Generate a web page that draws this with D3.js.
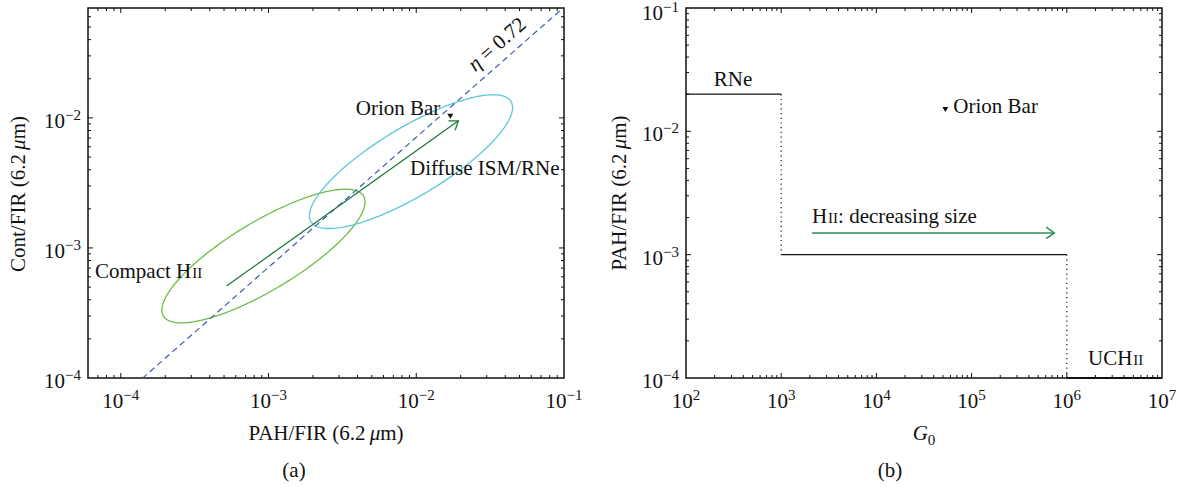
<!DOCTYPE html>
<html><head><meta charset="utf-8">
<script src="https://cdn.jsdelivr.net/npm/d3@7"></script>
<style>
body{margin:0;background:#fff}
svg{display:block}
text{font-family:"Liberation Serif","Times New Roman",serif;fill:#111}
</style>
</head><body>
<svg id="c" width="1181" height="487"></svg>
<script>
// ---------- DATA ----------
// panel (a)
const aXDomain = [6e-5, 0.1];
const aYDomain = [1e-4, 0.07];
const aXTickExps = [-4, -3, -2, -1];
const aYTickExps = [-4, -3, -2];
const etaRatio = 0.71;                 // Cont = 0.71 * PAH  (eta = 0.72 line)
const etaX = [1.4e-4, 0.1];
const arrowAStart = [5.2e-4, 5.1e-4];
const arrowAEnd = [0.0193, 0.0095];
const orionA = [0.017, 0.0103];
const ellipseNames = ["Compact HII", "Diffuse ISM/RNe"];
const ellipseCenters = [[9.24e-4, 8.67e-4], [9.21e-3, 4.61e-3]];
const ellipseMajor = [0.677, 0.462];   // semi-axis, in decades (x, y)
const ellipseMinor = [-0.120, 0.226];  // semi-axis, in decades (x, y)
const ellipseColors = ["#6cbd45", "#5ec8d8"];
// panel (b)
const bXDomain = [1e2, 1e7];
const bYDomain = [1e-4, 1e-1];
const bXTickExps = [2, 3, 4, 5, 6, 7];
const bYTickExps = [-4, -3, -2, -1];
const stepG = [1e2, 1e3, 1e6, 1e7];
const stepLevel = [0.02, 1e-3, 1e-4];
const arrowBStart = [2.1e3, 1.5e-3];
const arrowBEnd = [7.4e5, 1.5e-3];
const orionB = [5.3e4, 0.015];

// ---------- LAYOUT ----------
const svg = d3.select("#c");
const FS = 21, TFS = 21, SFS = 15;

function supText(sel, base, sup) {
  sel.append("tspan").text(base);
  sel.append("tspan").attr("font-size", SFS).attr("dy", -8).text(sup);
}

function panel(cfg) {
  const x = d3.scaleLog().domain(cfg.xd).range([cfg.l, cfg.r]);
  const y = d3.scaleLog().domain(cfg.yd).range([cfg.b, cfg.t]);
  const g = svg.append("g");
  const isMajor = d => Math.abs(Math.log10(d) - Math.round(Math.log10(d))) < 1e-9;
  const tk = g.append("g").attr("stroke", "#111").attr("stroke-width", 1);
  x.ticks().forEach(d => {
    const px = x(d), L = isMajor(d) ? 5 : 3;
    if (px < cfg.l + 0.5 || px > cfg.r - 0.5) return;
    tk.append("line").attr("x1", px).attr("x2", px).attr("y1", cfg.b).attr("y2", cfg.b - L);
    tk.append("line").attr("x1", px).attr("x2", px).attr("y1", cfg.t).attr("y2", cfg.t + L);
  });
  y.ticks().forEach(d => {
    const py = y(d), L = isMajor(d) ? 5 : 3;
    if (py < cfg.t + 0.5 || py > cfg.b - 0.5) return;
    tk.append("line").attr("y1", py).attr("y2", py).attr("x1", cfg.l).attr("x2", cfg.l + L);
    tk.append("line").attr("y1", py).attr("y2", py).attr("x1", cfg.r).attr("x2", cfg.r - L);
  });
  g.append("rect").attr("x", cfg.l).attr("y", cfg.t)
    .attr("width", cfg.r - cfg.l).attr("height", cfg.b - cfg.t)
    .attr("fill", "none").attr("stroke", "#111").attr("stroke-width", 1.5);
  cfg.xExps.forEach(e => {
    const t = g.append("text").attr("x", x(Math.pow(10, e))).attr("y", cfg.b + 30)
      .attr("text-anchor", "middle").attr("font-size", TFS);
    supText(t, "10", (e < 0 ? "\u2212" : "") + Math.abs(e));
  });
  cfg.yExps.forEach(e => {
    const yy = Math.max(y(Math.pow(10, e)) + 10, 20);
    const t = g.append("text").attr("x", cfg.l - 7).attr("y", yy)
      .attr("text-anchor", "end").attr("font-size", TFS);
    supText(t, "10", "\u2212" + Math.abs(e));
  });
  const id = "clip" + cfg.l;
  svg.append("clipPath").attr("id", id).append("rect")
    .attr("x", cfg.l).attr("y", cfg.t).attr("width", cfg.r - cfg.l).attr("height", cfg.b - cfg.t);
  const plot = g.append("g").attr("clip-path", `url(#${id})`);
  return {x, y, g, plot};
}

function arrow(g, p0, p1, color, w) {
  g.append("line").attr("x1", p0[0]).attr("y1", p0[1]).attr("x2", p1[0]).attr("y2", p1[1])
    .attr("stroke", color).attr("stroke-width", w);
  const ang = Math.atan2(p0[1] - p1[1], p0[0] - p1[0]);
  const L = 10, sp = 35 * Math.PI / 180;
  const pts = [[p1[0] + L * Math.cos(ang + sp), p1[1] + L * Math.sin(ang + sp)], p1,
               [p1[0] + L * Math.cos(ang - sp), p1[1] + L * Math.sin(ang - sp)]];
  g.append("path").attr("d", d3.line()(pts)).attr("fill", "none")
    .attr("stroke", color).attr("stroke-width", w);
}

function tri(g, px, py) {
  g.append("path").attr("d", `M${px - 3},${py - 2.5}L${px + 3},${py - 2.5}L${px},${py + 2.5}Z`)
    .attr("fill", "#111");
}

function mu(t, pre) {
  t.append("tspan").text(pre + "(6.2\u2009");
  t.append("tspan").attr("font-style", "italic").text("\u03BC");
  t.append("tspan").text("m)");
}

// ---------- PANEL A ----------
const A = panel({xd: aXDomain, yd: aYDomain, l: 88, r: 564, t: 8, b: 378,
                 xExps: aXTickExps, yExps: aYTickExps});
ellipseCenters.forEach((c, i) => {
  const lc = [Math.log10(c[0]), Math.log10(c[1])];
  const pts = d3.range(0, 2 * Math.PI + 0.001, Math.PI / 90).map(t => {
    const lx = lc[0] + ellipseMajor[0] * Math.cos(t) + ellipseMinor[0] * Math.sin(t);
    const ly = lc[1] + ellipseMajor[1] * Math.cos(t) + ellipseMinor[1] * Math.sin(t);
    return [A.x(Math.pow(10, lx)), A.y(Math.pow(10, ly))];
  });
  A.plot.append("path").attr("d", d3.line()(pts) + "Z").attr("fill", "none")
    .attr("stroke", ellipseColors[i]).attr("stroke-width", 1.3);
});
A.plot.append("path")
  .attr("d", d3.line()(etaX.map(v => [A.x(v), A.y(v * etaRatio)])))
  .attr("fill", "none").attr("stroke", "#3f5ab4").attr("stroke-width", 1.2)
  .attr("stroke-dasharray", "6,4");
arrow(A.g, [A.x(arrowAStart[0]), A.y(arrowAStart[1])], [A.x(arrowAEnd[0]), A.y(arrowAEnd[1])], "#1f7a3f", 1.3);
tri(A.g, A.x(orionA[0]), A.y(orionA[1]));
A.g.append("text").attr("x", A.x(orionA[0]) - 10).attr("y", A.y(orionA[1]) - 1)
  .attr("text-anchor", "end").attr("font-size", FS).text("Orion Bar");
A.g.append("text").attr("x", 410).attr("y", 175).attr("font-size", FS).text(ellipseNames[1]);
{
  const t = A.g.append("text").attr("x", 95).attr("y", 278).attr("font-size", FS);
  t.append("tspan").text("Compact H");
  t.append("tspan").attr("font-size", 15).attr("dx", 1).text("II");
}
{
  const ex = 0.042, px = A.x(ex), py = A.y(ex * etaRatio);
  const ang = -Math.atan2(A.y(1e-3) - A.y(1e-2), A.x(1e-2) - A.x(1e-3)) * 180 / Math.PI;
  const t = A.g.append("text").attr("font-size", FS).attr("text-anchor", "middle")
    .attr("transform", `translate(${px - 7},${py - 7}) rotate(${ang})`);
  t.append("tspan").attr("font-style", "italic").text("\u03B7");
  t.append("tspan").text(" = 0.72");
}
{
  mu(svg.append("text").attr("x", 326).attr("y", 440).attr("text-anchor", "middle").attr("font-size", FS), "PAH/FIR ");
  mu(svg.append("text").attr("transform", "translate(25,194) rotate(-90)")
    .attr("text-anchor", "middle").attr("font-size", FS), "Cont/FIR ");
  svg.append("text").attr("x", 294).attr("y", 477).attr("text-anchor", "middle").attr("font-size", FS).text("(a)");
}

// ---------- PANEL B ----------
const B = panel({xd: bXDomain, yd: bYDomain, l: 686, r: 1162, t: 8, b: 378,
                 xExps: bXTickExps, yExps: bYTickExps});
stepLevel.forEach((lv, i) => {
  B.g.append("line").attr("x1", B.x(stepG[i])).attr("x2", B.x(stepG[i + 1]))
    .attr("y1", B.y(lv)).attr("y2", B.y(lv)).attr("stroke", "#111")
    .attr("stroke-width", i === stepLevel.length - 1 ? 2.2 : 1.3);
  if (i < stepLevel.length - 1) {
    B.g.append("line").attr("x1", B.x(stepG[i + 1])).attr("x2", B.x(stepG[i + 1]))
      .attr("y1", B.y(lv)).attr("y2", B.y(stepLevel[i + 1])).attr("stroke", "#111")
      .attr("stroke-width", 1.2).attr("stroke-dasharray", "1.2,3.5");
  }
});
arrow(B.g, [B.x(arrowBStart[0]), B.y(arrowBStart[1])], [B.x(arrowBEnd[0]), B.y(arrowBEnd[1])], "#2f8f55", 1.5);
tri(B.g, B.x(orionB[0]), B.y(orionB[1]));
B.g.append("text").attr("x", B.x(orionB[0]) + 8).attr("y", B.y(orionB[1]) + 3)
  .attr("font-size", FS).text("Orion Bar");
B.g.append("text").attr("x", 733).attr("y", 86).attr("text-anchor", "middle").attr("font-size", FS).text("RNe");
{
  const t = B.g.append("text").attr("x", B.x(arrowBStart[0])).attr("y", 223).attr("font-size", FS);
  t.append("tspan").text("H");
  t.append("tspan").attr("font-size", 15).attr("dx", 1).text("II");
  t.append("tspan").text(": decreasing size");
  const u = B.g.append("text").attr("x", 1088).attr("y", 365).attr("font-size", FS);
  u.append("tspan").text("UCH");
  u.append("tspan").attr("font-size", 15).attr("dx", 1).text("II");
}
{
  const t = svg.append("text").attr("x", 924).attr("y", 440).attr("text-anchor", "middle").attr("font-size", FS);
  t.append("tspan").attr("font-style", "italic").text("G");
  t.append("tspan").attr("font-size", 15).attr("dy", 5).text("0");
  mu(svg.append("text").attr("transform", "translate(626,193) rotate(-90)")
    .attr("text-anchor", "middle").attr("font-size", FS), "PAH/FIR ");
  svg.append("text").attr("x", 890).attr("y", 477).attr("text-anchor", "middle").attr("font-size", FS).text("(b)");
}
</script>
</body></html>
